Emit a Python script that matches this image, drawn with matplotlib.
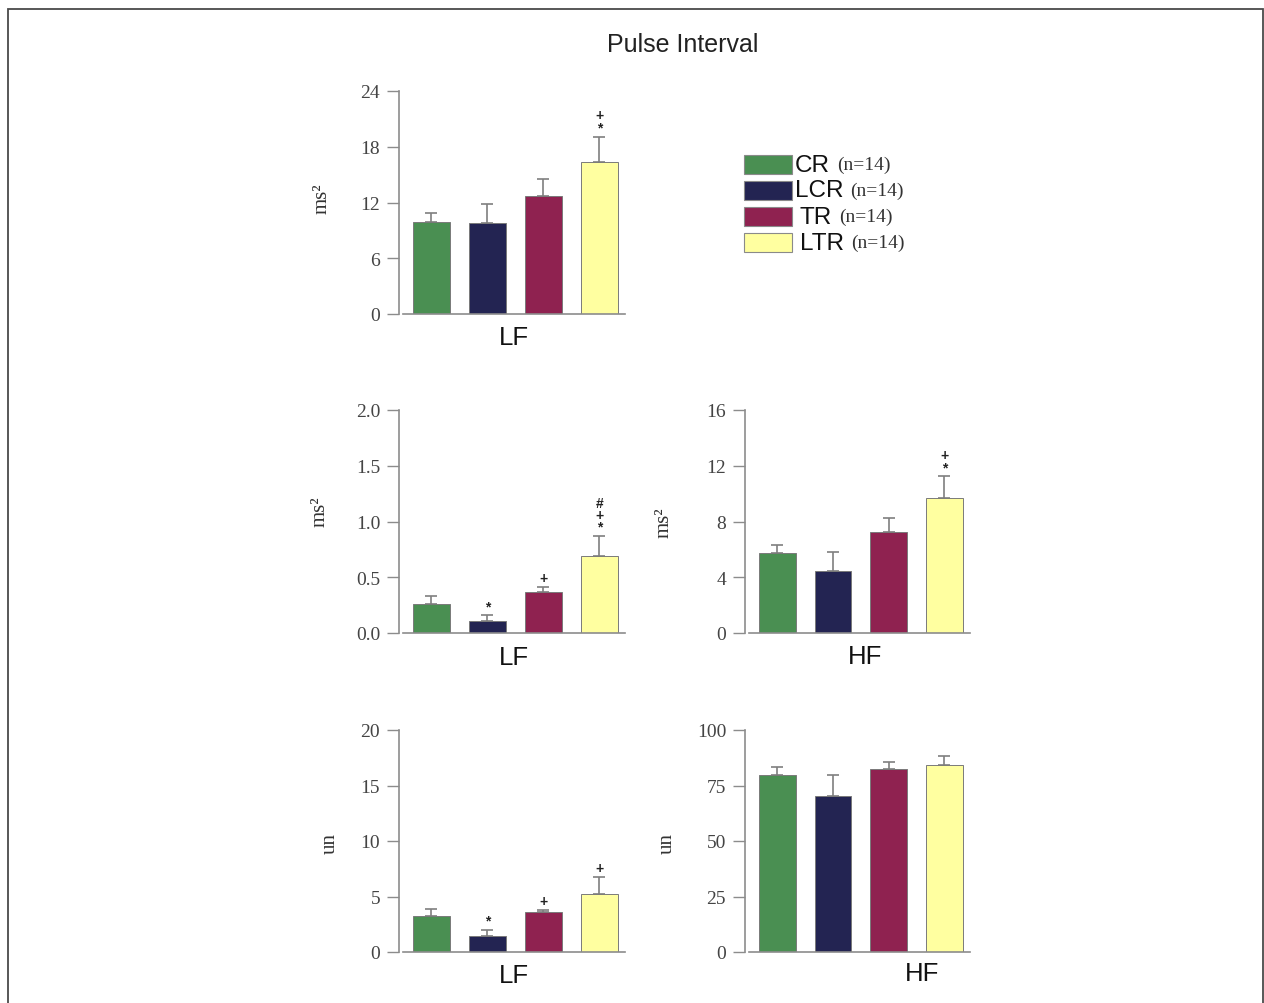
import matplotlib
matplotlib.use("Agg")
import matplotlib.pyplot as plt
from matplotlib.patches import Rectangle
import numpy as np

groups = ["CR", "LCR", "TR", "LTR"]
group_n = ["(n=14)", "(n=14)", "(n=14)", "(n=14)"]
colors = ["#4a8f52", "#232452", "#8f2250", "#ffffa0"]

# Panel data (mean, upper SEM end, significance marks from bottom up)
lf_ms2_top = [9.9, 9.8, 12.7, 16.4]
lf_ms2_top_err = [10.9, 11.8, 14.5, 19.1]
lf_ms2_top_sig = ["", "", "", "*+"]

lf_ms2 = [0.26, 0.105, 0.365, 0.69]
lf_ms2_err = [0.33, 0.16, 0.41, 0.87]
lf_ms2_sig = ["", "*", "+", "*+#"]

hf_ms2 = [5.72, 4.47, 7.27, 9.66]
hf_ms2_err = [6.3, 5.83, 8.23, 11.26]
hf_ms2_sig = ["", "", "", "*+"]

lf_un = [3.27, 1.44, 3.63, 5.25]
lf_un_err = [3.87, 2.0, 3.8, 6.73]
lf_un_sig = ["", "*", "+", "+"]

hf_un = [79.9, 70.4, 82.4, 84.2]
hf_un_err = [83.5, 79.9, 85.7, 88.4]
hf_un_sig = ["", "", "", ""]

W, H = 1264, 1004
fig = plt.figure(figsize=(W / 100, H / 100), dpi=100)
fig.patch.set_facecolor("white")

def fx(px):
    return px / W

def fy(py):
    return 1 - py / H

SERIF = ["Liberation Serif", "DejaVu Serif"]
SANS = ["Liberation Sans", "DejaVu Sans"]
AX_COL = "#8c8c8c"
TICK_COL = "#444444"

def panel(x0, x1, ytop, ybot, vals, errs, sigs, ymax, yticks, ticklabels,
          ylab, ylab_pos, xlab, xlab_pos):
    ax = fig.add_axes([fx(x0), fy(ybot), fx(x1 - x0), (ybot - ytop) / H])
    xs = np.arange(len(vals))
    vals = np.array(vals)
    errs = np.array(errs)
    ax.bar(xs, vals, width=0.66, color=colors, edgecolor="#7a7a7a",
           linewidth=0.7, zorder=2)
    ax.errorbar(xs, vals, yerr=[np.zeros_like(vals), errs - vals], fmt="none",
                ecolor="#7f7f7f", elinewidth=1.2, capsize=4.3, capthick=1.2,
                zorder=1)
    for xi, top, s in zip(xs, errs, sigs):
        if not s:
            continue
        stacked = "\n".join(reversed(list(s)))
        ax.annotate(stacked, xy=(xi, top), xytext=(0, 1.5),
                    textcoords="offset points", ha="center", va="bottom",
                    fontsize=10, fontweight="bold", color="#222222",
                    family=SANS, linespacing=0.82, multialignment="center")
    ax.set_xlim(-0.58, 3.46)
    ax.set_ylim(0, ymax)
    ax.set_yticks(yticks)
    ax.set_yticklabels(ticklabels, family=SERIF, fontsize=14, color=TICK_COL)
    ax.set_xticks([])
    for sp in ["top", "right"]:
        ax.spines[sp].set_visible(False)
    for sp in ["left", "bottom"]:
        ax.spines[sp].set_color(AX_COL)
        ax.spines[sp].set_linewidth(1.2)
    ax.spines["bottom"].set_bounds(-0.50, 3.46)
    ax.tick_params(axis="y", direction="out", length=8.6, width=1.0,
                   color=AX_COL, pad=5)
    ax.set_facecolor("none")
    ax.text(ylab_pos[0], ylab_pos[1], ylab, transform=ax.transAxes,
            rotation=90, ha="center", va="center", family=SERIF,
            fontsize=15, color="#333333")
    ax.text(xlab_pos[0], xlab_pos[1], xlab, transform=ax.transAxes,
            ha="center", va="center", family=SANS, fontsize=18.5,
            color="#111111")
    return ax

ax0 = panel(399, 625, 92, 315, lf_ms2_top, lf_ms2_top_err, lf_ms2_top_sig, 24,
            [0, 6, 12, 18, 24], ["0", "6", "12", "18", "24"],
            "ms²", (-0.34, 0.52), "LF", (0.509, -0.103))
panel(399, 625, 411, 634, lf_ms2, lf_ms2_err, lf_ms2_sig, 2.0,
      [0, 0.5, 1.0, 1.5, 2.0], ["0.0", "0.5", "1.0", "1.5", "2.0"],
      "ms²", (-0.35, 0.55), "LF", (0.509, -0.108))
panel(745, 970, 411, 634, hf_ms2, hf_ms2_err, hf_ms2_sig, 16,
      [0, 4, 8, 12, 16], ["0", "4", "8", "12", "16"],
      "ms²", (-0.36, 0.50), "HF", (0.533, -0.103))
panel(399, 625, 731, 953, lf_un, lf_un_err, lf_un_sig, 20,
      [0, 5, 10, 15, 20], ["0", "5", "10", "15", "20"],
      "un", (-0.305, 0.495), "LF", (0.509, -0.104))
panel(745, 970, 731, 953, hf_un, hf_un_err, hf_un_sig, 100,
      [0, 25, 50, 75, 100], ["0", "25", "50", "75", "100"],
      "un", (-0.347, 0.495), "HF", (0.787, -0.095))

# Title
fig.text(fx(683), fy(45), "Pulse Interval", ha="center", va="center",
         family=SANS, fontsize=18, color="#222222")

# Legend (manual)
leg_top = [156, 182, 208, 234]
label_x = [795, 795, 800, 800]
for i, (g, n) in enumerate(zip(groups, group_n)):
    y0 = leg_top[i]
    fig.add_artist(Rectangle((fx(744), fy(y0 + 19)), fx(48), 19 / H,
                             transform=fig.transFigure, facecolor=colors[i],
                             edgecolor="#8a8a8a", linewidth=0.8))
    t = fig.text(fx(label_x[i]), fy(y0 + 9.5), g, ha="left", va="center",
                 family=SANS, fontsize=17.5, color="#111111")
    ax0.annotate(n, xy=(1, 0.5), xycoords=t, xytext=(5, 0),
                 textcoords="offset points", ha="left", va="center",
                 family=SERIF, fontsize=14, color="#333333",
                 annotation_clip=False)

# Outer border
fig.add_artist(Rectangle((fx(8), fy(1010)), fx(1263 - 8), (1010 - 10) / H,
                         transform=fig.transFigure, fill=False,
                         edgecolor="#4a4a4a", linewidth=1.3))

fig.savefig("out.png", dpi=100, facecolor="white")
